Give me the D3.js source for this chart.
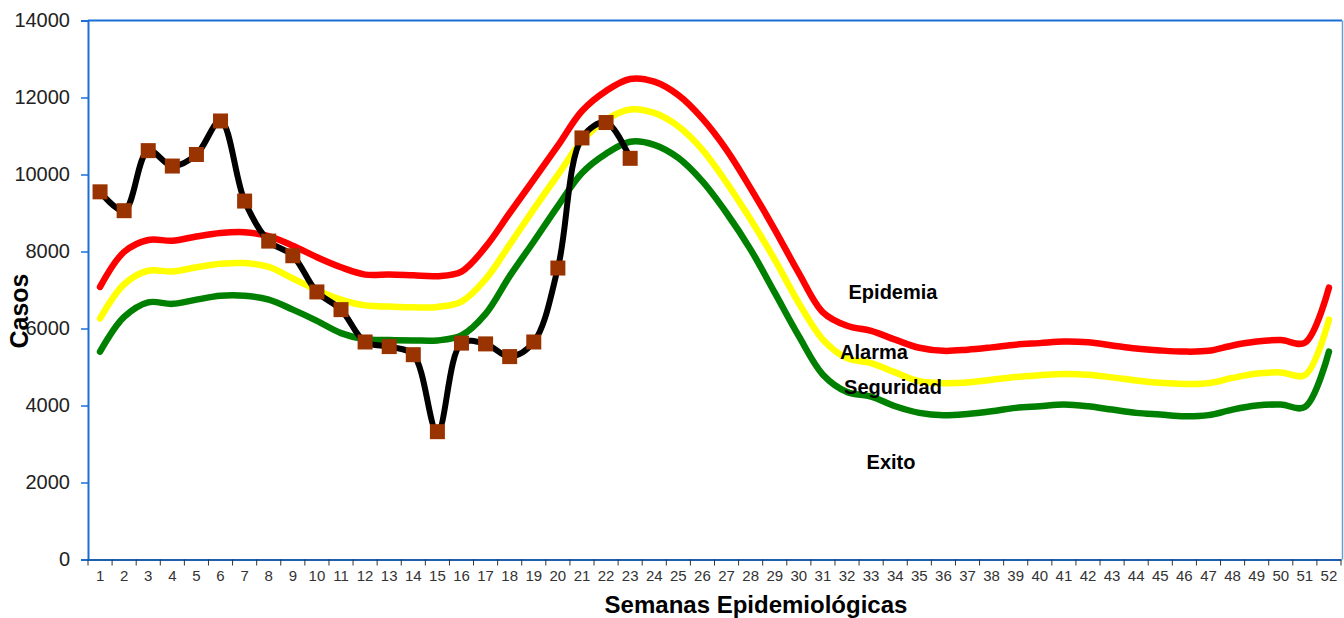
<!DOCTYPE html>
<html>
<head>
<meta charset="utf-8">
<script src="https://cdn.jsdelivr.net/npm/d3@7"></script>
<style>
  html, body { margin: 0; padding: 0; background: #fff; }
  svg { display: block; }
  text { font-family: Arial, "Liberation Sans", sans-serif; }
</style>
</head>
<body>
<svg id="chart" width="1344" height="618"></svg>
<script>
// ---------- DATA ----------
const weeks = [1,2,3,4,5,6,7,8,9,10,11,12,13,14,15,16,17,18,19,20,21,22,23,24,25,26,
               27,28,29,30,31,32,33,34,35,36,37,38,39,40,41,42,43,44,45,46,47,48,49,50,51,52];

const casos = [9550, 9060, 10620, 10220, 10520, 11390, 9310, 8270, 7890, 6950, 6490, 5650,
               5530, 5320, 3320, 5620, 5600, 5270, 5650, 7570, 10950, 11350, 10420];

const epidemia = [7080, 7990, 8300, 8280, 8390, 8480, 8500, 8400, 8150, 7850, 7590, 7400,
                  7400, 7380, 7360, 7480, 8120, 9000, 9870, 10750, 11650, 12170, 12480, 12410,
                  12060, 11450, 10640, 9640, 8570, 7440, 6420, 6070, 5940, 5710, 5500, 5420,
                  5450, 5510, 5580, 5620, 5660, 5640, 5560, 5480, 5430, 5400, 5420, 5560,
                  5660, 5700, 5630, 7060];

const alarma = [6260, 7150, 7500, 7480, 7590, 7680, 7700, 7600, 7300, 7000, 6750, 6600,
                6570, 6550, 6560, 6700, 7280, 8180, 9100, 9990, 10870, 11420, 11690, 11600,
                11250, 10640, 9790, 8830, 7790, 6660, 5710, 5230, 5100, 4860, 4630, 4580,
                4600, 4670, 4740, 4785, 4820, 4800, 4730, 4650, 4590, 4560, 4580, 4716,
                4830, 4860, 4790, 6230];

const seguridad = [5400, 6300, 6680, 6640, 6750, 6850, 6850, 6750, 6490, 6200, 5880, 5720,
                   5700, 5690, 5690, 5820, 6380, 7360, 8260, 9180, 10040, 10540, 10850, 10770,
                   10430, 9820, 9000, 8050, 6930, 5800, 4800, 4350, 4230, 3980, 3808, 3746,
                   3780, 3850, 3938, 3980, 4024, 3980, 3894, 3808, 3764, 3720, 3750, 3894,
                   3998, 4024, 3960, 5400];

const yTicks = [0, 2000, 4000, 6000, 8000, 10000, 12000, 14000];
const zoneLabels = ["Epidemia", "Alarma", "Seguridad", "Exito"];
const xTitle = "Semanas Epidemiológicas";
const yTitle = "Casos";

// ---------- LAYOUT ----------
const svg = d3.select("#chart");
const L = 88, R = 1341, T = 20.5, B = 559.5;

const x = d3.scaleBand().domain(weeks).range([L, R]).padding(0);
const y = d3.scaleLinear().domain([0, 14000]).range([B, T]);
const cx = w => x(w) + x.bandwidth() / 2;

// plot area border (top & right)
svg.append("line").attr("x1", L).attr("x2", R + 1).attr("y1", T).attr("y2", T)
  .attr("stroke", "#1a6fd6").attr("stroke-width", 2);
svg.append("line").attr("x1", R + 1.5).attr("x2", R + 1.5).attr("y1", T).attr("y2", B)
  .attr("stroke", "#6a9fd4").attr("stroke-width", 1.5);

// Y axis
const yAxis = svg.append("g").attr("transform", `translate(${L},0)`)
  .call(d3.axisLeft(y).tickValues(yTicks).tickSize(7).tickPadding(11).tickFormat(d3.format("d")));
yAxis.select(".domain").attr("stroke", "#1a6fd6").attr("stroke-width", 2);
yAxis.selectAll(".tick line").attr("stroke", "#1a6fd6").attr("stroke-width", 1.5);
yAxis.selectAll(".tick text").attr("font-size", 20).attr("fill", "#222")
  .attr("font-family", "Arial, 'Liberation Sans', sans-serif");

// X axis
const xAxis = svg.append("g").attr("transform", `translate(0,${B})`)
  .call(d3.axisBottom(x).tickSize(0).tickPadding(11));
xAxis.select(".domain").attr("stroke", "#1f5fb0").attr("stroke-width", 2);
xAxis.selectAll(".tick text").attr("font-size", 15).attr("fill", "#333")
  .attr("font-family", "Arial, 'Liberation Sans', sans-serif");
// boundary tick marks between weeks
const bounds = weeks.map(w => x(w)).concat([R]);
svg.append("g").selectAll("line").data(bounds).join("line")
  .attr("x1", d => d).attr("x2", d => d)
  .attr("y1", B).attr("y2", B + 6)
  .attr("stroke", "#333").attr("stroke-width", 1);

// ---------- LINES ----------
const line = d3.line()
  .x((d, i) => cx(weeks[i]))
  .y(d => y(d))
  .curve(d3.curveCatmullRom.alpha(0.5));

const bands = [
  { vals: epidemia, color: "#ff0000" },
  { vals: alarma, color: "#ffff00" },
  { vals: seguridad, color: "#008000" }
];
bands.forEach(s => {
  svg.append("path").attr("d", line(s.vals))
    .attr("fill", "none").attr("stroke", s.color)
    .attr("stroke-width", 6.5).attr("stroke-linecap", "round").attr("stroke-linejoin", "round");
});

svg.append("path").attr("d", line(casos))
  .attr("fill", "none").attr("stroke", "#000")
  .attr("stroke-width", 6).attr("stroke-linecap", "round").attr("stroke-linejoin", "round");

const ms = 15;
svg.append("g").selectAll("rect").data(casos).join("rect")
  .attr("x", (d, i) => cx(weeks[i]) - ms / 2)
  .attr("y", d => y(d) - ms / 2)
  .attr("width", ms).attr("height", ms)
  .attr("fill", "#993300");

// ---------- ZONE LABELS ----------
const labelPos = [[893, 299], [874, 359], [893, 394], [891, 469]];
svg.append("g").selectAll("text").data(zoneLabels).join("text")
  .attr("x", (d, i) => labelPos[i][0]).attr("y", (d, i) => labelPos[i][1])
  .attr("text-anchor", "middle").attr("font-size", 20).attr("font-weight", "bold")
  .attr("fill", "#000").text(d => d);

// ---------- TITLES ----------
svg.append("text").attr("x", 756).attr("y", 613).attr("text-anchor", "middle")
  .attr("font-size", 24).attr("font-weight", "bold").attr("fill", "#000").text(xTitle);
svg.append("text").attr("transform", "translate(28,311) rotate(-90)")
  .attr("text-anchor", "middle").attr("font-size", 25).attr("font-weight", "bold")
  .attr("fill", "#000").text(yTitle);
</script>
</body>
</html>
